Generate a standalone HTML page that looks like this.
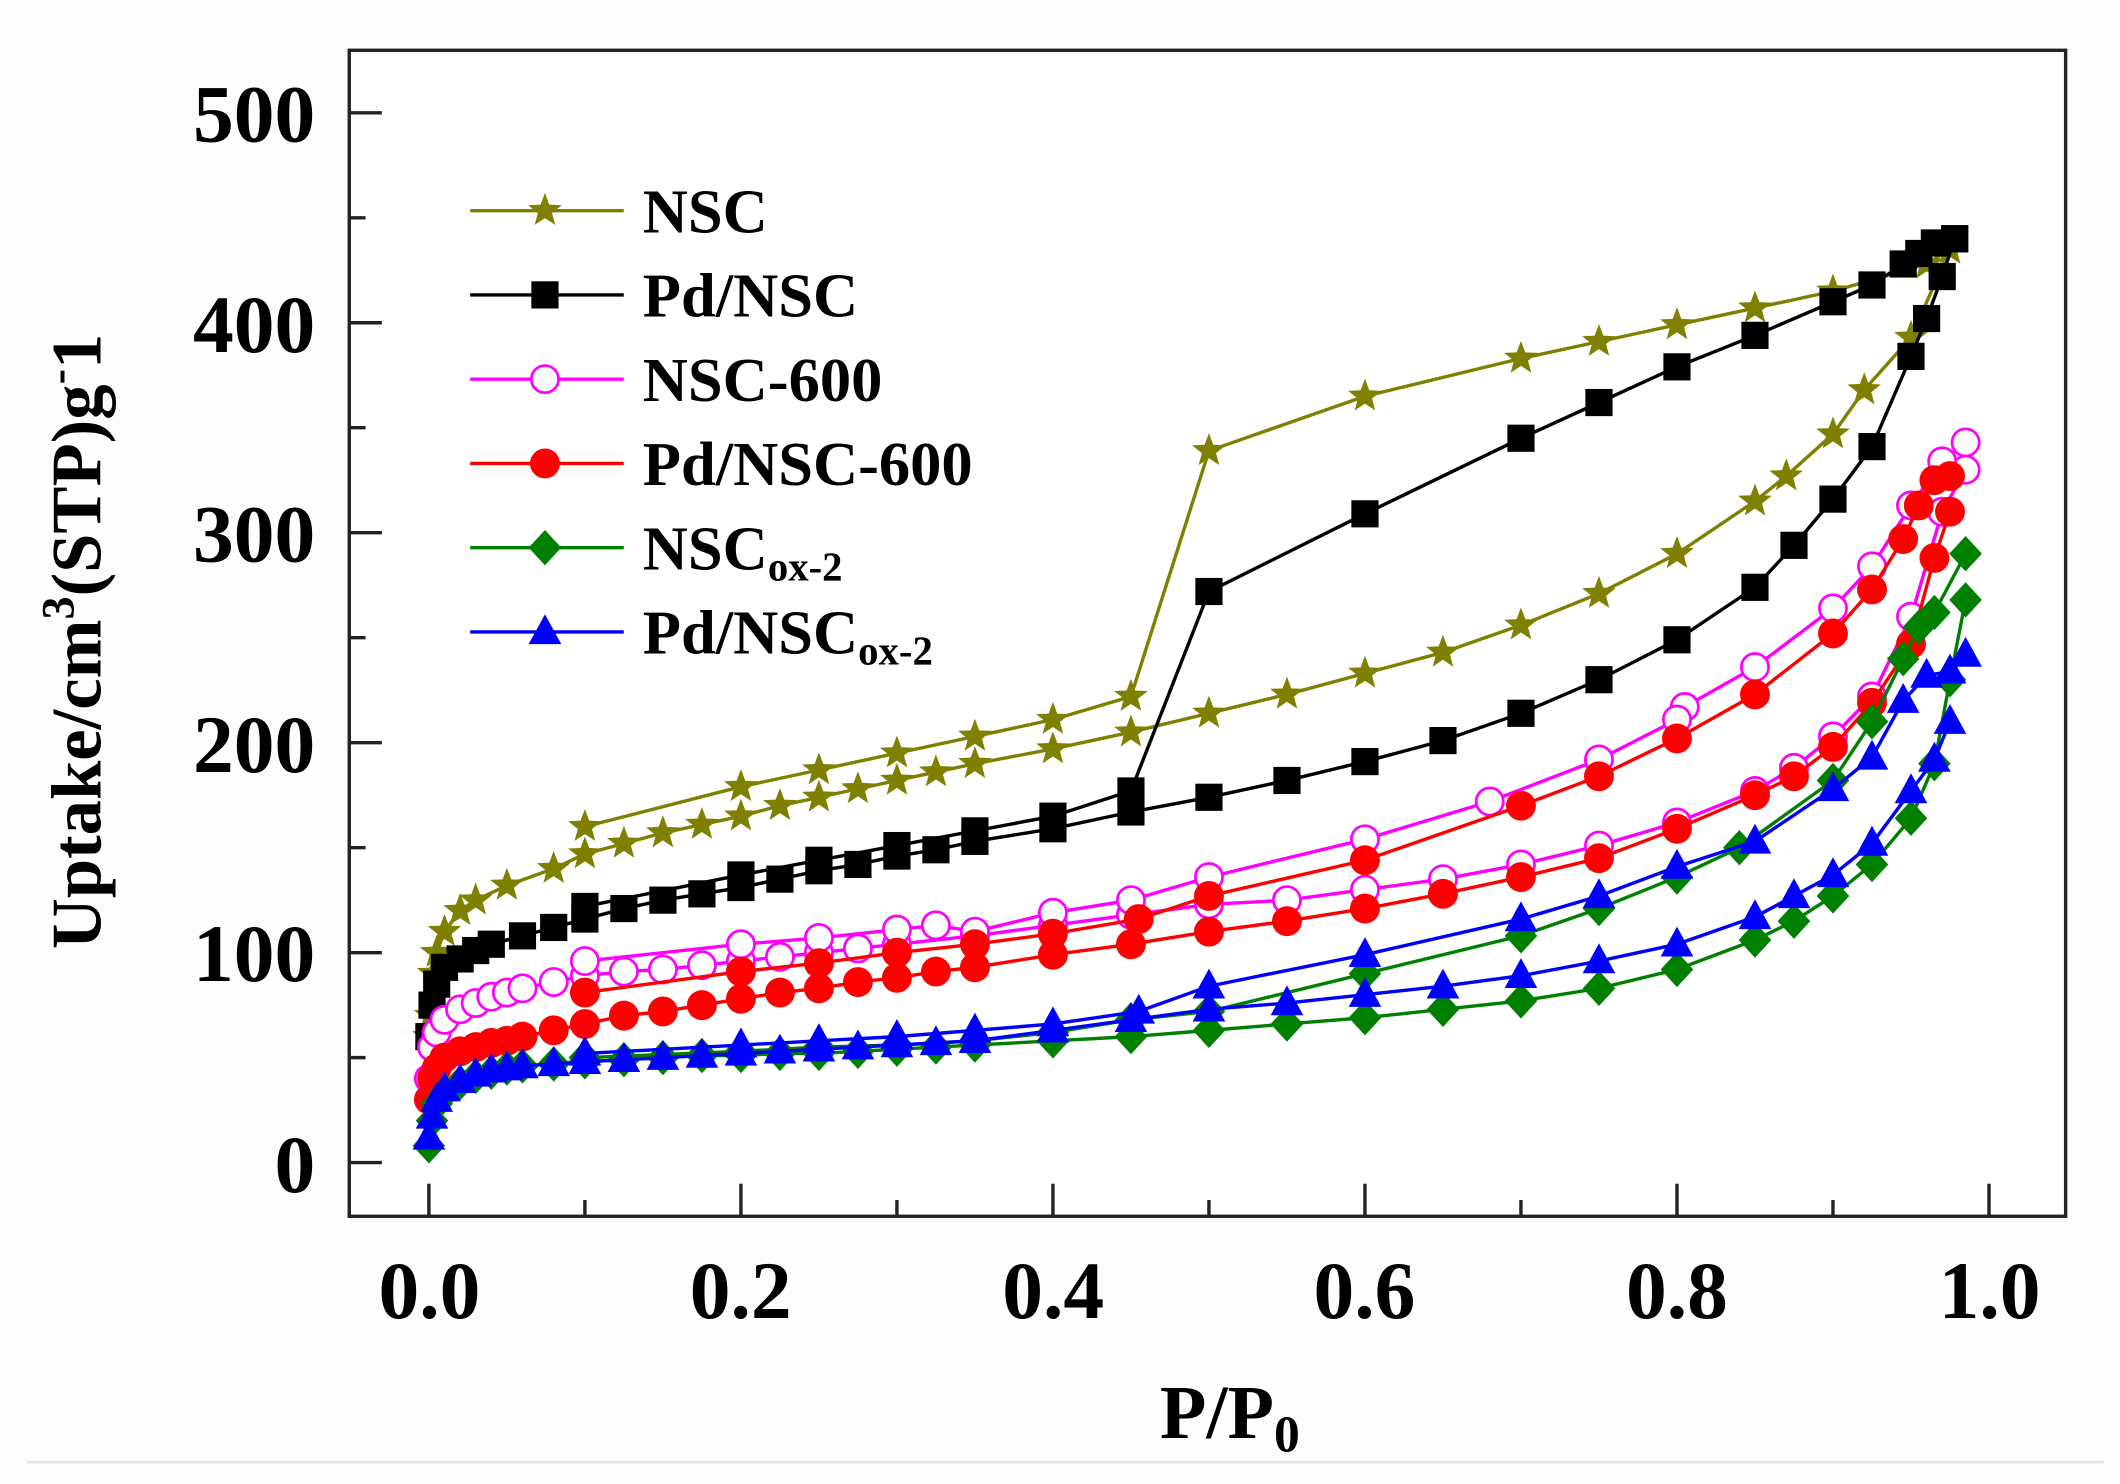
<!DOCTYPE html>
<html><head><meta charset="utf-8"><style>
html,body{margin:0;padding:0;background:#fdfdfd;}
svg{display:block;}
text{font-family:"Liberation Serif",serif;font-weight:bold;fill:#000;}
</style></head><body>
<svg id="s" width="2120" height="1484" viewBox="0 0 1560 1092" xmlns="http://www.w3.org/2000/svg">
<rect x="0" y="0" width="1560" height="1092" fill="#fdfdfd"/>
<rect x="257" y="37" width="1263" height="858" fill="#fff" stroke="#222" stroke-width="2.5"/>
<line x1="20" y1="1076" x2="1548" y2="1076" stroke="#e6e6e6" stroke-width="2"/>
<g id="ticks" stroke="#222" stroke-width="2.5"></g>
<g id="data"></g>
<g font-size="60" text-anchor="end">
<text x="232" y="104">500</text><text x="232" y="259">400</text><text x="232" y="413">300</text>
<text x="232" y="568">200</text><text x="232" y="722">100</text><text x="232" y="877">0</text>
</g>
<g font-size="60" text-anchor="middle">
<text x="316" y="970">0.0</text><text x="545" y="970">0.2</text><text x="775" y="970">0.4</text>
<text x="1004" y="970">0.6</text><text x="1234" y="970">0.8</text><text x="1464" y="970">1.0</text>
</g>
<text x="905" y="1058" font-size="56" text-anchor="middle">P/P<tspan font-size="38" dy="10">0</tspan></text>
<text transform="translate(74,472) rotate(-90)" font-size="52" text-anchor="middle">Uptake/cm<tspan font-size="34" dy="-20">3</tspan><tspan dy="20">(STP)g</tspan><tspan font-size="34" dy="-20">-</tspan><tspan dy="20">1</tspan></text>
<g id="leg" font-size="46"></g>
</svg>
<script>
var NS="http://www.w3.org/2000/svg";
function X(p){return 315.6+p*1148;}function Y(v){return 855.5-v*1.545;}
function el(t,a,par){var e=document.createElementNS(NS,t);for(var k in a)e.setAttribute(k,a[k]);par.appendChild(e);return e;}
var tk=document.getElementById('ticks');
for(var v=0;v<=500;v+=50){var y=Y(v);el('line',{x1:257,y1:y,x2:257+(v%100==0?24:12),y2:y},tk);}
for(var i=0;i<=10;i++){var x=X(i/10);el('line',{x1:x,y1:895,x2:x,y2:895-(i%2==0?24:12)},tk);}
function star(cx,cy,r){var s="";for(var i=0;i<10;i++){var a=-Math.PI/2+i*Math.PI/5,rr=i%2?r*0.42:r;s+=(cx+rr*Math.cos(a)).toFixed(1)+","+(cy+rr*Math.sin(a)).toFixed(1)+" ";}return s;}
function marker(type,col,x,y,par){
 if(type=='star')el('polygon',{points:star(x,y,13),fill:col},par);
 else if(type=='sq')el('rect',{x:x-10,y:y-10,width:20,height:20,fill:col},par);
 else if(type=='oc')el('circle',{cx:x,cy:y,r:10,fill:'#fff',stroke:col,'stroke-width':2},par);
 else if(type=='fc')el('circle',{cx:x,cy:y,r:11,fill:col},par);
 else if(type=='dia')el('polygon',{points:(x)+","+(y-13)+" "+(x+12)+","+y+" "+x+","+(y+13)+" "+(x-12)+","+y,fill:col},par);
 else if(type=='tri')el('polygon',{points:x+","+(y-13)+" "+(x+12)+","+(y+9)+" "+(x-12)+","+(y+9),fill:col},par);
}
function P(s){return s.trim().split(/\s*,\s*/).map(function(t){var a=t.split(/\s+/);return[+a[0],+a[1]];});}
var S=[
['#808000','star','NSC',"0 60,0.001 70,0.003 90,0.005 100,0.01 110,0.02 120,0.03 125,0.05 132,0.08 140,0.1 147,0.125 152,0.15 157,0.175 161,0.2 165,0.225 170,0.25 174,0.275 178,0.3 182,0.325 186,0.35 190,0.4 197,0.45 205,0.5 214,0.55 223,0.6 233,0.65 243,0.7 256,0.75 271,0.8 290,0.85 315,0.87 327,0.9 347,0.92 368,0.95 393,0.975 435","0.975 435,0.96 428,0.9 415,0.85 407,0.8 399,0.75 391,0.7 383,0.6 365,0.5 339,0.45 222,0.4 211,0.35 203,0.3 195,0.25 187,0.2 179,0.1 160"],
['#000','sq','Pd/NSC',"0 60,0.002 75,0.005 85,0.01 93,0.02 97,0.03 101,0.04 104,0.06 108,0.08 112,0.1 116,0.125 121,0.15 125,0.175 128,0.2 131,0.225 135,0.25 139,0.275 142,0.3 146,0.325 149,0.35 153,0.4 159,0.45 167,0.5 174,0.55 182,0.6 191,0.65 201,0.7 214,0.75 230,0.8 249,0.85 274,0.875 294,0.9 316,0.925 341,0.95 384,0.96 402,0.97 422,0.978 440","0.978 440,0.965 438,0.955 433,0.945 428,0.925 418,0.9 410,0.85 394,0.8 379,0.75 362,0.7 345,0.6 309,0.5 272,0.45 177,0.4 165,0.35 158,0.3 151,0.25 144,0.2 137,0.1 122"],
['#ff00ff','oc','NSC-600',"0 40,0.002 55,0.005 62,0.01 68,0.02 73,0.03 76,0.04 79,0.05 81,0.06 83,0.08 86,0.1 89,0.125 91,0.15 92,0.175 94,0.2 96,0.225 98,0.25 100,0.275 102,0.3 104,0.35 108,0.4 113,0.45 118,0.5 123,0.55 125,0.6 130,0.65 135,0.7 142,0.75 151,0.8 162,0.85 177,0.875 188,0.9 203,0.925 222,0.95 260,0.97 310,0.985 330","0.985 343,0.97 334,0.95 313,0.925 284,0.9 264,0.85 236,0.805 217,0.8 211,0.75 192,0.68 172,0.6 154,0.5 136,0.45 125,0.4 119,0.35 110,0.325 113,0.3 111,0.25 107,0.2 104,0.1 96"],
['#ff0000','fc','Pd/NSC-600',"0 30,0.002 40,0.005 45,0.01 50,0.02 53,0.03 55,0.04 57,0.05 58,0.06 60,0.08 63,0.1 66,0.125 70,0.15 72,0.175 75,0.2 78,0.225 81,0.25 83,0.275 86,0.3 88,0.325 91,0.35 93,0.4 99,0.45 104,0.5 110,0.55 115,0.6 121,0.65 128,0.7 136,0.75 145,0.8 159,0.85 175,0.875 184,0.9 198,0.925 219,0.95 247,0.965 288,0.975 310","0.975 327,0.965 325,0.955 313,0.945 297,0.925 273,0.9 252,0.85 223,0.8 202,0.75 184,0.7 170,0.6 144,0.5 127,0.455 116,0.4 109,0.35 104,0.3 100,0.25 95,0.2 91,0.1 81"],
['#008000','dia','NSC',"0 8,0.002 20,0.005 28,0.01 33,0.02 38,0.03 41,0.04 43,0.05 45,0.06 46,0.08 47,0.1 48,0.125 49,0.15 50,0.175 51,0.2 51,0.225 52,0.25 52,0.275 53,0.3 54,0.325 55,0.35 56,0.4 58,0.45 60,0.5 63,0.55 66,0.6 69,0.65 73,0.7 77,0.75 83,0.8 92,0.85 106,0.875 115,0.9 127,0.925 142,0.95 164,0.965 190,0.975 230,0.985 268","0.985 290,0.965 262,0.955 255,0.945 240,0.925 210,0.9 182,0.84 150,0.8 136,0.75 121,0.7 108,0.6 90,0.5 72,0.45 68,0.4 62,0.35 58,0.3 56,0.25 55,0.2 53,0.1 50"],
['#0000ff','tri','Pd/NSC',"0 12,0.002 22,0.005 30,0.01 35,0.02 39,0.03 42,0.04 44,0.05 45,0.06 46,0.08 47,0.1 48,0.125 49,0.15 50,0.175 51,0.2 52,0.225 53,0.25 54,0.275 55,0.3 56,0.325 57,0.35 58,0.4 63,0.45 68,0.5 73,0.55 76,0.6 80,0.65 84,0.7 89,0.75 96,0.8 104,0.85 117,0.875 127,0.9 137,0.925 152,0.95 177,0.965 192,0.975 210","0.985 242,0.975 234,0.96 232,0.945 220,0.925 193,0.9 178,0.85 153,0.8 141,0.75 127,0.7 116,0.6 99,0.5 84,0.455 72,0.4 66,0.35 63,0.3 60,0.25 58,0.2 56,0.1 52"]
];
var dg=document.getElementById('data'),lg=document.getElementById('leg');
S.forEach(function(s,i){
 [s[3],s[4]].forEach(function(str){
  var pts=P(str);
  el('polyline',{points:pts.map(function(p){return X(p[0]).toFixed(1)+","+Y(p[1]).toFixed(1);}).join(" "),fill:'none',stroke:s[0],'stroke-width':2.5},dg);
  pts.forEach(function(p){marker(s[1],s[0],X(p[0]),Y(p[1]),dg);});
 });
 var ly=155+i*62;
 el('line',{x1:346,y1:ly,x2:459,y2:ly,stroke:s[0],'stroke-width':2.5},lg);
 marker(s[1],s[0],401,ly,lg);
 var t=el('text',{x:473,y:ly+16},lg);
 t.textContent=s[2];
 if(i>=4){var ts=el('tspan',{'font-size':30,dy:8},t);ts.textContent='ox-2';}
});
</script>
</body></html>
